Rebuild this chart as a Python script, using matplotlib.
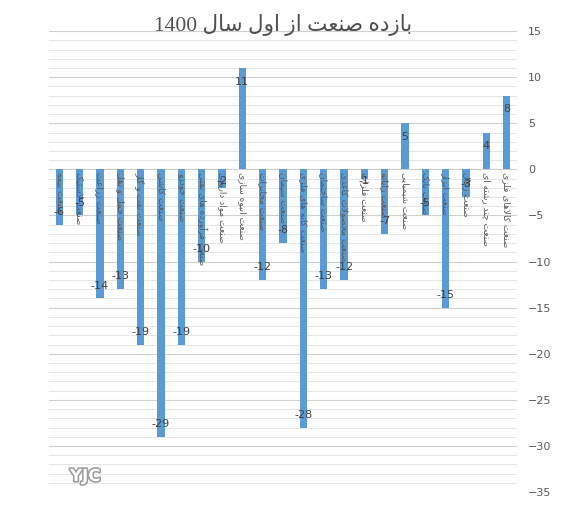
import re
import matplotlib
matplotlib.use("Agg")
import matplotlib.pyplot as plt
import matplotlib.patheffects as pe
import numpy as np

# ---------------------------------------
# DATA
# ---------------------------------------
title = "بازده صنعت از اول سال 1400"

industries = [
    "صنعت بیمه", "صنعت لاستیک", "صنعت زراعت", "صنعت حمل و نقل",
    "صنعت نفت و گاز", "صنعت کاشی", "صنعت خودرو", "صنعت فرآورده های نفتی",
    "صنعت مواد دارویی", "صنعت انبوه سازی", "صنعت مخابرات", "صنعت سیمان",
    "صنعت کانه های فلزی", "صنعت ساختمان", "صنعت محصولات کاغذی", "صنعت فلزات",
    "صنعت رایانه", "صنعت شیمیایی", "صنعت بانک", "صنعت ابزار",
    "صنعت زغال", "صنعت چند رشته ای", "صنعت کالاهای فلزی",
]
returns = [-6, -5, -14, -13, -19, -29, -19, -10, -2, 11, -12, -8,
           -28, -13, -12, -1, -7, 5, -5, -15, -3, 4, 8]

y_ticks = list(range(-35, 16, 5))

# ---------------------------------------
# PERSIAN SHAPING (matplotlib has no bidi / joining)
# forms: isolated, final, initial, medial
# ---------------------------------------
FORMS = {
    "ا": (0xFE8D, 0xFE8E), "آ": (0xFE81, 0xFE82),
    "ب": (0xFE8F, 0xFE90, 0xFE91, 0xFE92), "پ": (0xFB56, 0xFB57, 0xFB58, 0xFB59),
    "ت": (0xFE95, 0xFE96, 0xFE97, 0xFE98), "ث": (0xFE99, 0xFE9A, 0xFE9B, 0xFE9C),
    "ج": (0xFE9D, 0xFE9E, 0xFE9F, 0xFEA0), "چ": (0xFB7A, 0xFB7B, 0xFB7C, 0xFB7D),
    "ح": (0xFEA1, 0xFEA2, 0xFEA3, 0xFEA4), "خ": (0xFEA5, 0xFEA6, 0xFEA7, 0xFEA8),
    "د": (0xFEA9, 0xFEAA), "ذ": (0xFEAB, 0xFEAC), "ر": (0xFEAD, 0xFEAE),
    "ز": (0xFEAF, 0xFEB0), "ژ": (0xFB8A, 0xFB8B),
    "س": (0xFEB1, 0xFEB2, 0xFEB3, 0xFEB4), "ش": (0xFEB5, 0xFEB6, 0xFEB7, 0xFEB8),
    "ص": (0xFEB9, 0xFEBA, 0xFEBB, 0xFEBC), "ض": (0xFEBD, 0xFEBE, 0xFEBF, 0xFEC0),
    "ط": (0xFEC1, 0xFEC2, 0xFEC3, 0xFEC4), "ظ": (0xFEC5, 0xFEC6, 0xFEC7, 0xFEC8),
    "ع": (0xFEC9, 0xFECA, 0xFECB, 0xFECC), "غ": (0xFECD, 0xFECE, 0xFECF, 0xFED0),
    "ف": (0xFED1, 0xFED2, 0xFED3, 0xFED4), "ق": (0xFED5, 0xFED6, 0xFED7, 0xFED8),
    "ک": (0xFB8E, 0xFB8F, 0xFB90, 0xFB91), "گ": (0xFB92, 0xFB93, 0xFB94, 0xFB95),
    "ل": (0xFEDD, 0xFEDE, 0xFEDF, 0xFEE0), "م": (0xFEE1, 0xFEE2, 0xFEE3, 0xFEE4),
    "ن": (0xFEE5, 0xFEE6, 0xFEE7, 0xFEE8), "ه": (0xFEE9, 0xFEEA, 0xFEEB, 0xFEEC),
    "و": (0xFEED, 0xFEEE), "ی": (0xFBFC, 0xFBFD, 0xFBFE, 0xFBFF),
    "ئ": (0xFE89, 0xFE8A, 0xFE8B, 0xFE8C),
    "\uFEFB": (0xFEFB, 0xFEFC), "\uFEF5": (0xFEF5, 0xFEF6),
}


def fa(text):
    # lam-alef ligatures first
    text = text.replace("لا", "\uFEFB").replace("لآ", "\uFEF5")
    out = []
    for i, ch in enumerate(text):
        if ch not in FORMS:
            out.append(ch)
            continue
        prev = text[i - 1] if i > 0 else ""
        nxt = text[i + 1] if i + 1 < len(text) else ""
        pj = prev in FORMS and len(FORMS[prev]) == 4
        nj = len(FORMS[ch]) == 4 and nxt in FORMS
        f = FORMS[ch]
        if pj and nj:
            out.append(chr(f[3]))
        elif pj:
            out.append(chr(f[1]))
        elif nj:
            out.append(chr(f[2]))
        else:
            out.append(chr(f[0]))
    s = "".join(out)[::-1]
    return re.sub(r"[0-9]+", lambda m: m.group(0)[::-1], s)


# ---------------------------------------
# PLOT
# ---------------------------------------
plt.rcParams['font.family'] = ['DejaVu Sans']

fig = plt.figure(figsize=(5.67, 5.18), dpi=100)
ax = fig.add_axes([0.0864, 0.050, 0.8254, 0.890])

x = np.arange(len(returns))
ax.bar(x, returns, width=0.36, color='#5B9BD5', zorder=3)

ax.set_xlim(-0.5, len(returns) - 0.5)
ax.set_ylim(-35, 15)
ax.set_yticks(y_ticks)
ax.set_yticks(range(-35, 16), minor=True)
ax.yaxis.tick_right()
ax.tick_params(axis='y', which='both', length=0, labelsize=8,
               labelcolor='#595959', pad=8)
ax.set_xticks([])
ax.grid(axis='y', which='major', color='#d0d0d0', lw=0.8, zorder=0)
ax.grid(axis='y', which='minor', color='#e6e6e6', lw=0.7, zorder=0)
for s in ax.spines.values():
    s.set_visible(False)

# value labels, inside end of bar
for xi, v in zip(x, returns):
    ly = min(v + 1.4, -1.3) if v < 0 else v - 1.5
    ax.text(xi, ly, str(v), ha='center', va='center', fontsize=8,
            color='#404040', zorder=5)

# category labels, rotated, just below the zero line
for xi, name in zip(x, industries):
    ax.annotate(fa(name), (xi, 0), xytext=(0, -2), textcoords='offset points',
                rotation=270, ha='center', va='top', fontsize=6.5,
                color='#595959', zorder=4)

fig.text(0.5, 1 - 25 / 518, fa(title), ha='center', va='center',
         fontsize=15.5, color='#505050',
         family=['Liberation Serif', 'DejaVu Sans'])

# watermark
fig.text(70 / 567, 1 - 476 / 518, "YJC", ha='left', va='center',
         fontsize=12, fontweight='bold', color='white',
         path_effects=[pe.withStroke(linewidth=2.2, foreground='#9a9a9a')])

fig.savefig("out.png", dpi=100)
